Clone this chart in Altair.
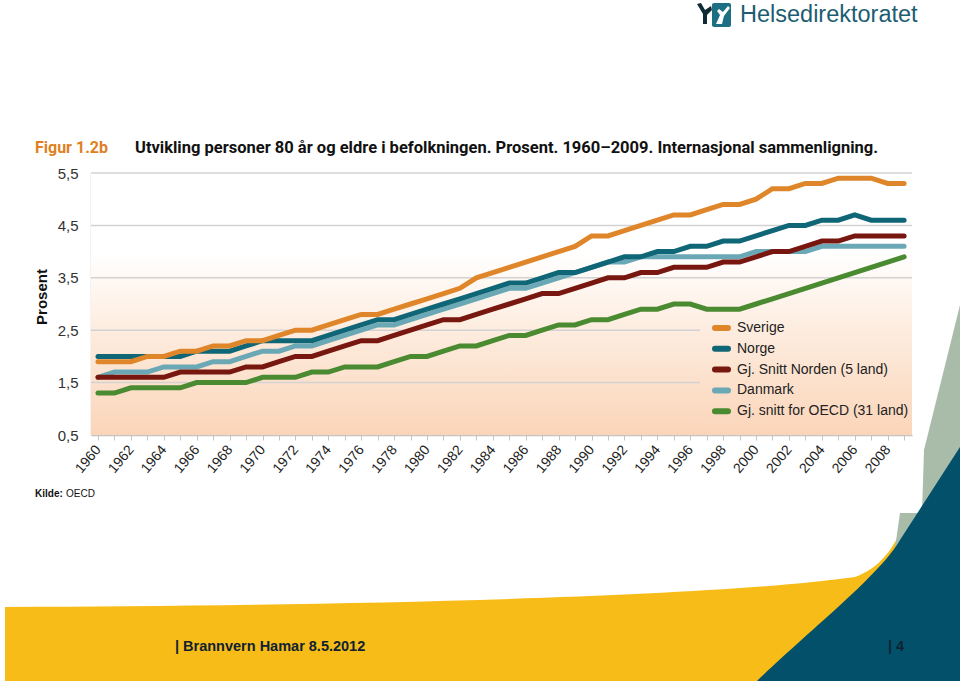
import altair as alt
import pandas as pd

# ---------------- data ----------------
years = list(range(1960, 2010))
series_names = ["Sverige", "Norge", "Gj. Snitt Norden (5 land)", "Danmark", "Gj. snitt for OECD (31 land)"]
series_colors = ["#E0862A", "#0F6677", "#78170F", "#6BA8B6", "#4A8A30"]

sverige = [1.9, 1.9, 1.9, 2.0, 2.0, 2.1, 2.1, 2.2, 2.2, 2.3,
           2.3, 2.4, 2.5, 2.5, 2.6, 2.7, 2.8, 2.8, 2.9, 3.0,
           3.1, 3.2, 3.3, 3.5, 3.6, 3.7, 3.8, 3.9, 4.0, 4.1,
           4.3, 4.3, 4.4, 4.5, 4.6, 4.7, 4.7, 4.8, 4.9, 4.9,
           5.0, 5.2, 5.2, 5.3, 5.3, 5.4, 5.4, 5.4, 5.3, 5.3]
norge = [2.0, 2.0, 2.0, 2.0, 2.0, 2.0, 2.1, 2.1, 2.1, 2.2,
         2.3, 2.3, 2.3, 2.3, 2.4, 2.5, 2.6, 2.7, 2.7, 2.8,
         2.9, 3.0, 3.1, 3.2, 3.3, 3.4, 3.4, 3.5, 3.6, 3.6,
         3.7, 3.8, 3.9, 3.9, 4.0, 4.0, 4.1, 4.1, 4.2, 4.2,
         4.3, 4.4, 4.5, 4.5, 4.6, 4.6, 4.7, 4.6, 4.6, 4.6]
norden = [1.6, 1.6, 1.6, 1.6, 1.6, 1.7, 1.7, 1.7, 1.7, 1.8,
          1.8, 1.9, 2.0, 2.0, 2.1, 2.2, 2.3, 2.3, 2.4, 2.5,
          2.6, 2.7, 2.7, 2.8, 2.9, 3.0, 3.1, 3.2, 3.2, 3.3,
          3.4, 3.5, 3.5, 3.6, 3.6, 3.7, 3.7, 3.7, 3.8, 3.8,
          3.9, 4.0, 4.0, 4.1, 4.2, 4.2, 4.3, 4.3, 4.3, 4.3]
danmark = [1.6, 1.7, 1.7, 1.7, 1.8, 1.8, 1.8, 1.9, 1.9, 2.0,
           2.1, 2.1, 2.2, 2.2, 2.3, 2.4, 2.5, 2.6, 2.6, 2.7,
           2.8, 2.9, 3.0, 3.1, 3.2, 3.3, 3.3, 3.4, 3.5, 3.6,
           3.7, 3.8, 3.8, 3.9, 3.9, 3.9, 3.9, 3.9, 3.9, 3.9,
           4.0, 4.0, 4.0, 4.0, 4.1, 4.1, 4.1, 4.1, 4.1, 4.1]
oecd = [1.3, 1.3, 1.4, 1.4, 1.4, 1.4, 1.5, 1.5, 1.5, 1.5,
        1.6, 1.6, 1.6, 1.7, 1.7, 1.8, 1.8, 1.8, 1.9, 2.0,
        2.0, 2.1, 2.2, 2.2, 2.3, 2.4, 2.4, 2.5, 2.6, 2.6,
        2.7, 2.7, 2.8, 2.9, 2.9, 3.0, 3.0, 2.9, 2.9, 2.9,
        3.0, 3.1, 3.2, 3.3, 3.4, 3.5, 3.6, 3.7, 3.8, 3.9]
y_ticks = [0.5, 1.5, 2.5, 3.5, 4.5, 5.5]

series_values = [sverige, norge, norden, danmark, oecd]
frames = []
for name, vals in zip(series_names, series_values):
    frames.append(pd.DataFrame({"year": years, "value": vals, "serie": name}))
df = pd.concat(frames, ignore_index=True)

# ---------------- layout (slide pixels) ----------------
L, T = 91, 173          # plot origin on the slide
W, H = 821, 262         # plot size
FONT = "Liberation Sans, Arial, sans-serif"
FONT_T = "Roboto, Liberation Sans, sans-serif"


def hx(c):
    return [int(c[i:i + 2], 16) for i in (1, 3, 5)]


def mix(stops, f):
    for (f0, c0), (f1, c1) in zip(stops, stops[1:]):
        if f0 <= f <= f1:
            t = 0 if f1 == f0 else (f - f0) / (f1 - f0)
            a, b = hx(c0), hx(c1)
            return "#" + "".join(f"{round(a[i] + (b[i] - a[i]) * t):02x}" for i in range(3))
    return stops[-1][1]


bg_stops = [(0.0, "#ffffff"), (0.30, "#ffffff"), (0.62, "#fdebdd"), (1.0, "#fbd5b9")]


def grad(stops):
    return alt.Gradient(gradient="linear", x1=0, x2=0, y1=0, y2=1,
                        stops=[alt.GradientStop(offset=o, color=c) for o, c in stops])


one = pd.DataFrame({"k": [0]})

x_enc = alt.X("year:Q",
              scale=alt.Scale(domain=[1959.575, 2009.48], nice=False, zero=False),
              axis=alt.Axis(values=years, format="d",
                            labelExpr="datum.value % 2 == 0 ? datum.label : ''",
                            labelAngle=310, labelAlign="right", labelBaseline="middle",
                            labelFont=FONT, labelFontSize=14, labelColor="#222222",
                            labelPadding=7, tickSize=5, tickColor="#c4c4c4", tickWidth=1,
                            domainColor="#c4c4c4", domainWidth=1.5, grid=False, title=None))
y_enc = alt.Y("value:Q",
              scale=alt.Scale(domain=[0.5, 5.5], nice=False, zero=False),
              axis=alt.Axis(values=y_ticks,
                            labelExpr="replace(format(datum.value, '.1f'), '.', ',')",
                            labelFont=FONT, labelFontSize=15, labelColor="#333333",
                            labelPadding=13, tickSize=0, domainColor="#cfcfcf",
                            domainWidth=1.5, grid=False, title=None))
color_enc = alt.Color("serie:N", scale=alt.Scale(domain=series_names, range=series_colors), legend=None)

# plot background gradient
bg = alt.Chart(one).mark_rect(fill=grad(bg_stops)).encode(
    x=alt.value(0), x2=alt.value(W), y=alt.value(0), y2=alt.value(H))

# gridlines at the y tick values
grid = alt.Chart(pd.DataFrame({"value": y_ticks[1:]})).mark_rule(
    color="#d2d2d2", strokeWidth=1.5).encode(y=y_enc, x=alt.value(0), x2=alt.value(W))

# legend box background (hides gridlines behind the legend)
lg_top, lg_bot = 142, 248
f0, f1 = lg_top / H, lg_bot / H
lg_stops = [(0.0, mix(bg_stops, f0)), ((0.62 - f0) / (f1 - f0), mix(bg_stops, 0.62)), (1.0, mix(bg_stops, f1))]
lgbox = alt.Chart(one).mark_rect(fill=grad(lg_stops)).encode(
    x=alt.value(609), x2=alt.value(W), y=alt.value(lg_top), y2=alt.value(lg_bot))

# data lines, drawn in a fixed z-order
order = ["Gj. snitt for OECD (31 land)", "Danmark", "Norge", "Gj. Snitt Norden (5 land)", "Sverige"]
lines = []
for name in order:
    lines.append(alt.Chart(df[df.serie == name]).mark_line(strokeWidth=5, strokeCap="round").encode(
        x=x_enc, y=y_enc, color=color_enc))

# legend entries (line swatch + label)
legend_layers = []
for i, (name, col) in enumerate(zip(series_names, series_colors)):
    yy = 328 + i * 20.8 - T
    legend_layers.append(alt.Chart(one).mark_rule(color=col, strokeWidth=6, strokeCap="round").encode(
        x=alt.value(715 - L), x2=alt.value(728 - L), y=alt.value(yy)))
    legend_layers.append(alt.Chart(one).mark_text(text=name, align="left", baseline="middle", fontSize=14,
                                                  font=FONT, color="#222222").encode(
        x=alt.value(737 - L), y=alt.value(yy)))


def text(t, x, y, size, color="#111111", weight="normal", font=FONT, align="left", angle=0):
    return alt.Chart(one).mark_text(text=t, align=align, baseline="middle", fontSize=size,
                                    fontWeight=weight, font=font, color=color, angle=angle).encode(
        x=alt.value(x - L), y=alt.value(y - T))


# decorative slide shapes (custom symbol paths in slide pixel space)
def shape(cmds):
    out = []
    for c in cmds:
        nums = c[1:]
        pts = [f"{(nums[i] - 480) / 480:.4f},{(nums[i + 1] - 340.5) / 480:.4f}" for i in range(0, len(nums), 2)]
        out.append(c[0] + " ".join(pts))
    return " ".join(out)


def deco(cmds, color):
    return alt.Chart(one).mark_point(shape=shape(cmds), filled=True, fill=color, opacity=1,
                                     strokeWidth=0, size=960 * 960).encode(
        x=alt.value(480 - L), y=alt.value(340.5 - T))


yellow = deco([("M", 5, 607), ("C", 300, 606, 700, 599, 855, 577), ("C", 880, 568, 895, 548, 905, 520),
               ("L", 960, 520), ("L", 960, 681), ("L", 5, 681), ("Z",)], "#F8BC18")
sage = deco([("M", 960, 305), ("L", 924, 450), ("L", 922, 513), ("L", 900, 513), ("L", 893, 562),
             ("L", 960, 562), ("Z",)], "#A9BCAA")
teal = deco([("M", 757, 681), ("C", 810, 630, 880, 575, 900, 540), ("L", 960, 447), ("L", 960, 681), ("Z",)],
            "#02506A")
logo_fig = deco([("M", 697, 4), ("L", 701, 3), ("L", 705, 10), ("L", 711, 6), ("L", 712, 10), ("L", 707, 15),
                 ("L", 707, 24), ("L", 703, 24), ("L", 703, 14), ("Z",)], "#0E2A35")
logo_box = alt.Chart(one).mark_rect(fill="#1E6E84", cornerRadius=2).encode(
    x=alt.value(712 - L), x2=alt.value(731 - L), y=alt.value(3 - T), y2=alt.value(27 - T))
logo_white = deco([("M", 716, 24), ("L", 720, 15), ("L", 717, 11), ("L", 719, 9), ("L", 723, 12),
                   ("L", 728, 6), ("L", 730, 8), ("L", 724, 16), ("L", 722, 24), ("Z",)], "#ffffff")

texts = [
    text("Figur 1.2b", 35, 148, 16, color="#E07F22", weight="bold", font=FONT_T),
    text("Utvikling personer 80 år og eldre i befolkningen. Prosent. 1960–2009. Internasjonal sammenligning.",
         135, 148, 16.5, weight="bold", font=FONT_T),
    text("Prosent", 42, 297, 15, weight="bold", align="center", angle=270),
    text("Kilde:", 35, 494, 10, weight="bold"),
    text("OECD", 66, 494, 10),
    text("Helsedirektoratet", 740, 15, 23.5, color="#1C5D72"),
    text("| Brannvern Hamar 8.5.2012", 175, 647, 14.5, color="#0E2233", weight="bold"),
    text("| 4", 888, 647, 14.5, color="#0E2233", weight="bold"),
]

chart = alt.layer(yellow, sage, teal, bg, grid, lgbox, *lines, *legend_layers,
                  logo_fig, logo_box, logo_white, *texts).properties(
    width=W, height=H,
    autosize=alt.AutoSizeParams(type="none"),
    padding={"left": L, "top": T, "right": 960 - L - W, "bottom": 681 - T - H},
    background="white",
).configure_view(stroke=None)

chart.save("out.html", embed_options={"renderer": "svg", "actions": False})
